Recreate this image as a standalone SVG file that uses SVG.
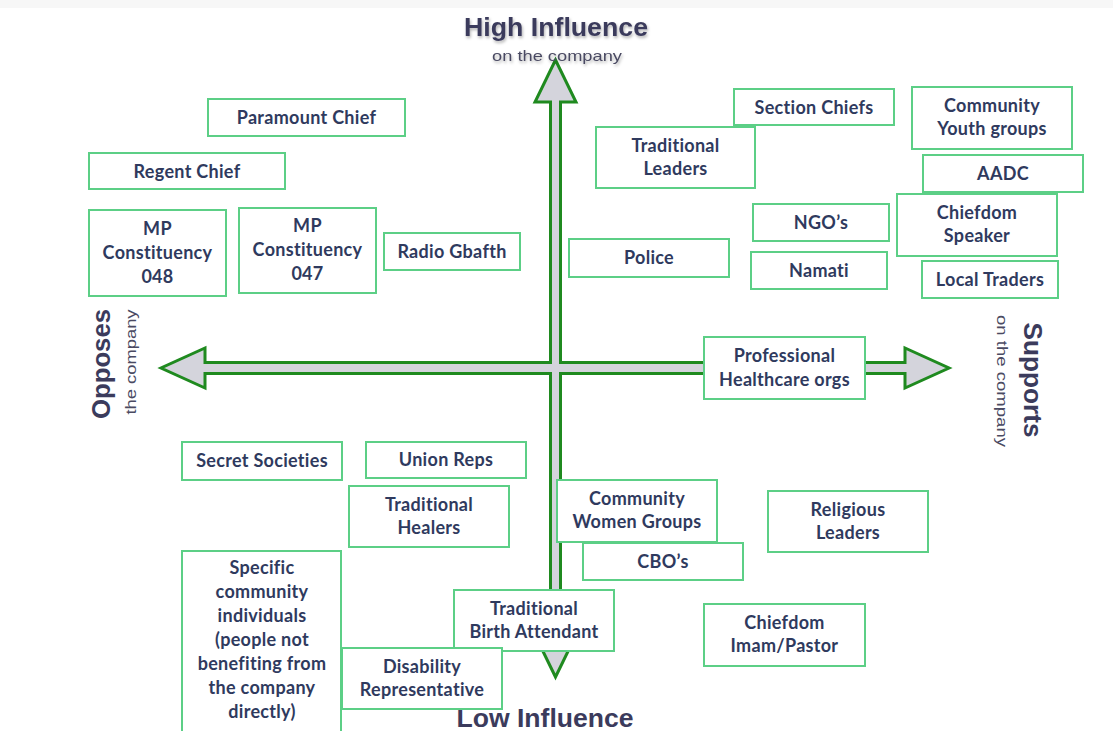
<svg xmlns="http://www.w3.org/2000/svg" width="1113" height="731" viewBox="0 0 1113 731">
<style>
.box{fill:#ffffff;stroke:#5ccf86;stroke-width:2}
.lbl{font-family:Lato,"Open Sans","Liberation Sans",sans-serif;font-weight:700;font-size:18px;letter-spacing:0.3px;fill:#2f3a5e;text-anchor:middle}
.big{font-family:"Liberation Sans",Arial,sans-serif;font-weight:700;font-size:26px;fill:#3b3b5c}
.sub{font-family:"Liberation Sans",Arial,sans-serif;font-size:15px;fill:#4a4a62}
</style>
<defs>
<filter id="sh" x="-10%" y="-30%" width="120%" height="160%">
<feDropShadow dx="1" dy="2" stdDeviation="1.5" flood-color="#000" flood-opacity="0.3"/>
</filter>
</defs>
<rect x="0" y="0" width="1113" height="731" fill="#ffffff"/>
<rect x="0" y="0" width="1113" height="8" fill="#f7f7f7"/>
<g id="connectors">
<polygon points="555.5,60 576,102 560.5,102 560.5,362.5 905,362.5 905,348 949,368 905,388 905,373.5 560.5,373.5 560.5,635 576,635 555.5,677 535,635 550.5,635 550.5,373.5 205,373.5 205,388 161,368 205,348 205,362.5 550.5,362.5 550.5,102 535,102" fill="#d4d4dc" stroke="#1f8a1f" stroke-width="3" stroke-linejoin="miter"/>
</g>
<g id="axis-labels">
<text class="big" x="556" y="36" text-anchor="middle" textLength="184" lengthAdjust="spacingAndGlyphs" filter="url(#sh)">High Influence</text>
<text class="sub" x="557" y="61" text-anchor="middle" textLength="130" lengthAdjust="spacingAndGlyphs" filter="url(#sh)">on the company</text>
<text class="big" x="545" y="727" text-anchor="middle" textLength="177" lengthAdjust="spacingAndGlyphs">Low Influence</text>
<text class="big" transform="translate(110,364) rotate(-90)" text-anchor="middle" textLength="110" lengthAdjust="spacingAndGlyphs">Opposes</text>
<text class="sub" transform="translate(136,362) rotate(-90)" text-anchor="middle" textLength="105" lengthAdjust="spacingAndGlyphs">the company</text>
<text class="big" transform="translate(1024,380) rotate(90)" text-anchor="middle" textLength="115" lengthAdjust="spacingAndGlyphs">Supports</text>
<text class="sub" transform="translate(997,381) rotate(90)" text-anchor="middle" textLength="132" lengthAdjust="spacingAndGlyphs">on the company</text>
</g>
<g id="paramount-chief"><rect class="box" x="208" y="99" width="197" height="37"/><text class="lbl" x="306.5" y="123.5">Paramount Chief</text></g>
<g id="regent-chief"><rect class="box" x="89" y="153" width="196" height="36"/><text class="lbl" x="187" y="177.5">Regent Chief</text></g>
<g id="mp-048"><rect class="box" x="89" y="210" width="137" height="86"/><text class="lbl" x="157.5" y="235">MP</text><text class="lbl" x="157.5" y="258.5">Constituency</text><text class="lbl" x="157.5" y="282.5">048</text></g>
<g id="mp-047"><rect class="box" x="239" y="208" width="137" height="85"/><text class="lbl" x="307.5" y="232">MP</text><text class="lbl" x="307.5" y="256">Constituency</text><text class="lbl" x="307.5" y="280">047</text></g>
<g id="radio-gbafth"><rect class="box" x="384" y="233" width="136" height="37"/><text class="lbl" x="452" y="257.5">Radio Gbafth</text></g>
<g id="section-chiefs"><rect class="box" x="734" y="89" width="160" height="36"/><text class="lbl" x="814" y="113.5">Section Chiefs</text></g>
<g id="traditional-leaders"><rect class="box" x="596" y="127" width="159" height="61"/><text class="lbl" x="675.5" y="151.5">Traditional</text><text class="lbl" x="675.5" y="175">Leaders</text></g>
<g id="community-youth"><rect class="box" x="912" y="87" width="160" height="62"/><text class="lbl" x="992" y="111.5">Community</text><text class="lbl" x="992" y="135">Youth groups</text></g>
<g id="aadc"><rect class="box" x="923" y="155" width="160" height="37"/><text class="lbl" x="1003" y="179.5">AADC</text></g>
<g id="ngos"><rect class="box" x="753" y="204" width="136" height="37"/><text class="lbl" x="821" y="228.5">NGO’s</text></g>
<g id="chiefdom-speaker"><rect class="box" x="897" y="194" width="160" height="62"/><text class="lbl" x="977" y="218.5">Chiefdom</text><text class="lbl" x="977" y="242">Speaker</text></g>
<g id="police"><rect class="box" x="569" y="239" width="160" height="38"/><text class="lbl" x="649" y="264">Police</text></g>
<g id="namati"><rect class="box" x="751" y="252" width="136" height="37"/><text class="lbl" x="819" y="276.5">Namati</text></g>
<g id="local-traders"><rect class="box" x="922" y="261" width="136" height="37"/><text class="lbl" x="990" y="285.5">Local Traders</text></g>
<g id="professional-healthcare"><rect class="box" x="704" y="337" width="161" height="62"/><text class="lbl" x="784.5" y="362">Professional</text><text class="lbl" x="784.5" y="385.5">Healthcare orgs</text></g>
<g id="secret-societies"><rect class="box" x="182" y="442" width="160" height="38"/><text class="lbl" x="262" y="466.5">Secret Societies</text></g>
<g id="union-reps"><rect class="box" x="366" y="442" width="160" height="36"/><text class="lbl" x="446" y="466">Union Reps</text></g>
<g id="traditional-healers"><rect class="box" x="349" y="486" width="160" height="61"/><text class="lbl" x="429" y="510.5">Traditional</text><text class="lbl" x="429" y="534">Healers</text></g>
<g id="community-women"><rect class="box" x="557" y="480" width="160" height="62"/><text class="lbl" x="637" y="504.5">Community</text><text class="lbl" x="637" y="528">Women Groups</text></g>
<g id="religious-leaders"><rect class="box" x="768" y="491" width="160" height="61"/><text class="lbl" x="848" y="515.5">Religious</text><text class="lbl" x="848" y="539">Leaders</text></g>
<g id="cbos"><rect class="box" x="583" y="543" width="160" height="37"/><text class="lbl" x="663" y="567.5">CBO’s</text></g>
<g id="specific-individuals"><rect class="box" x="182" y="551" width="159" height="190"/><text class="lbl" x="262" y="574">Specific</text><text class="lbl" x="262" y="598">community</text><text class="lbl" x="262" y="622">individuals</text><text class="lbl" x="262" y="646">(people not</text><text class="lbl" x="262" y="670">benefiting from</text><text class="lbl" x="262" y="694">the company</text><text class="lbl" x="262" y="718">directly)</text></g>
<g id="traditional-birth-attendant"><rect class="box" x="454" y="590" width="160" height="61"/><text class="lbl" x="534" y="614.5">Traditional</text><text class="lbl" x="534" y="638">Birth Attendant</text></g>
<g id="disability-representative"><rect class="box" x="342" y="648" width="160" height="61"/><text class="lbl" x="422" y="672.5">Disability</text><text class="lbl" x="422" y="696">Representative</text></g>
<g id="chiefdom-imam"><rect class="box" x="704" y="604" width="161" height="62"/><text class="lbl" x="784.5" y="628.5">Chiefdom</text><text class="lbl" x="784.5" y="652">Imam/Pastor</text></g>
</svg>
